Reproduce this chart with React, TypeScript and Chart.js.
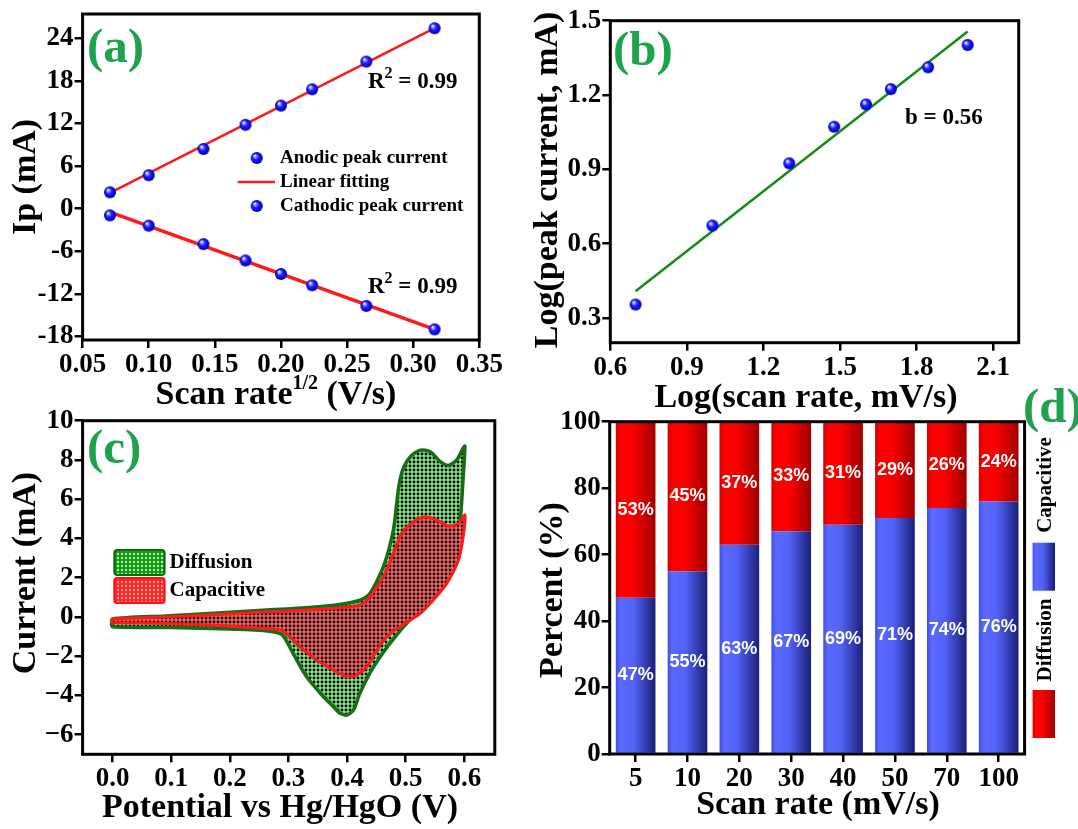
import React, { useEffect, useRef } from 'react';
import { Chart, registerables } from 'chart.js';
Chart.register(...registerables);

const PAGE_W = 1078;
const PAGE_H = 829;
const SERIF = '"Liberation Serif", "Times New Roman", serif';
const SANS = '"Liberation Sans", Arial, sans-serif';
const PANEL_GREEN = '#1fa24e';
const TITLE_SIZE = 34;
const TICK_SIZE = 27;

// ---------- (a) Ip vs sqrt(scan rate)
const sqrtScanRate = [0.0707, 0.1, 0.1414, 0.1732, 0.2, 0.2236, 0.2646, 0.3162];
const anodicIp = [2.3, 4.7, 8.4, 11.8, 14.5, 16.8, 20.7, 25.4];
const cathodicIp = [-0.95, -2.4, -5.0, -7.3, -9.2, -10.8, -13.7, -17.0];
const fitXa = [0.0707, 0.3162];
const anodicFit = [2.2, 25.4];
const cathodicFit = [-0.5, -17.0];
const aXTicks = [0.05, 0.1, 0.15, 0.2, 0.25, 0.3, 0.35];
const aYTicks = [-18, -12, -6, 0, 6, 12, 18, 24];

// ---------- (b) log-log
const logScanRate = [0.699, 1.0, 1.301, 1.477, 1.602, 1.699, 1.845, 2.0];
const logPeakCurrent = [0.354, 0.673, 0.924, 1.072, 1.162, 1.224, 1.312, 1.402];
const fitXb = [0.699, 2.0];
const fitYb = [0.408, 1.456];
const bXTicks = [0.6, 0.9, 1.2, 1.5, 1.8, 2.1];
const bYTicks = [0.3, 0.6, 0.9, 1.2, 1.5];

// ---------- (c) CV contributions
const diffusionPotential = [-0.002, 0.0, 0.09, 0.18, 0.263, 0.34, 0.39, 0.422, 0.439, 0.462, 0.479, 0.488, 0.495, 0.508, 0.525, 0.542, 0.559, 0.573, 0.587, 0.598, 0.601,
  0.597, 0.593, 0.584, 0.57, 0.547, 0.525, 0.507, 0.485, 0.461, 0.439, 0.422, 0.411, 0.4, 0.388, 0.377, 0.36, 0.331, 0.308, 0.289, 0.26, 0.2, 0.1, 0.0, -0.002];
const diffusionCurrent = [-0.3, -0.1, 0.05, 0.2, 0.35, 0.5, 0.65, 0.86, 1.2, 2.56, 4.43, 6.6, 7.5, 8.17, 8.5, 8.42, 7.91, 7.72, 8.0, 8.6, 8.7,
  6.6, 4.9, 3.2, 2.05, 1.2, 0.45, -0.15, -0.9, -1.84, -2.86, -3.88, -4.74, -5.0, -4.91, -4.58, -4.07, -3.05, -1.86, -0.9, -0.7, -0.62, -0.54, -0.5, -0.3];
const capacitivePotential = [-0.002, 0.0, 0.09, 0.18, 0.263, 0.34, 0.39, 0.422, 0.439, 0.462, 0.479, 0.493, 0.513, 0.533, 0.553, 0.573, 0.59, 0.601,
  0.598, 0.59, 0.57, 0.547, 0.525, 0.49, 0.468, 0.451, 0.434, 0.417, 0.4, 0.377, 0.348, 0.32, 0.303, 0.286, 0.206, 0.092, 0.0, -0.002];
const capacitiveCurrent = [-0.2, -0.1, 0.0, 0.12, 0.25, 0.36, 0.47, 0.61, 1.03, 2.05, 3.24, 4.26, 4.85, 5.11, 4.94, 4.63, 4.77, 5.19,
  4.09, 2.9, 1.71, 0.86, 0.18, -0.5, -1.01, -1.69, -2.54, -2.96, -3.05, -2.71, -2.2, -1.52, -1.01, -0.67, -0.48, -0.33, -0.28, -0.2];
const cXTicks = [0, 0.1, 0.2, 0.3, 0.4, 0.5, 0.6];
const cYTicks = [-6, -4, -2, 0, 2, 4, 6, 8, 10];

// ---------- (d) contribution percentages
const scanRateLabels = ['5', '10', '20', '30', '40', '50', '70', '100'];
const capacitivePct = [47, 55, 63, 67, 69, 71, 74, 76];
const diffusionPct = [53, 45, 37, 33, 31, 29, 26, 24];
const dYTicks = [0, 20, 40, 60, 80, 100];

// ---------- layout
type Rect = { l: number; t: number; r: number; b: number };
const Y_AXIS_W = 60;
const X_AXIS_H = 40;
const RECT_A: Rect = { l: 82.6, t: 14, r: 479.3, b: 340 };
const RECT_B: Rect = { l: 610.3, t: 20.7, r: 1018.7, b: 342.7 };
const RECT_C: Rect = { l: 82.6, t: 420.7, r: 494.8, b: 754.3 };
const RECT_D: Rect = { l: 609.7, t: 421.7, r: 1024.6, b: 754 };

const pad = (rc: Rect) => ({ left: rc.l - Y_AXIS_W, top: rc.t, right: PAGE_W - rc.r, bottom: PAGE_H - rc.b - X_AXIS_H });
const pts = (xs: number[], ys: number[]) => xs.map((x, i) => ({ x, y: ys[i] }));

const GRID = { display: true, offset: false, drawOnChartArea: false, drawTicks: true, tickLength: 8, lineWidth: 2.5, tickWidth: 2.5, color: '#000', tickColor: '#000' };

function axisCommon(isY: boolean, fmt: (v: any) => string) {
  return {
    position: isY ? 'left' : 'bottom',
    afterFit: (s: any) => {
      if (isY) { s.width = Y_AXIS_W; s.paddingTop = 0; s.paddingBottom = 0; }
      else { s.height = X_AXIS_H; s.paddingLeft = 0; s.paddingRight = 0; }
    },
    grid: GRID,
    border: { display: false },
    ticks: { color: '#000', font: { family: SERIF, weight: 'bold', size: TICK_SIZE }, padding: 1, autoSkip: false, maxRotation: 0, callback: fmt },
  };
}
function linAxis(isY: boolean, min: number, max: number, ticks: number[], fmt: (v: number) => string) {
  return {
    type: 'linear', min, max,
    ...axisCommon(isY, (v: any) => fmt(Number(v))),
    afterBuildTicks: (s: any) => { s.ticks = ticks.map((v) => ({ value: v })); },
  };
}

const framePlugin = {
  id: 'frame',
  afterDatasetsDraw(chart: any) {
    const { ctx, chartArea: a } = chart;
    ctx.save();
    ctx.lineWidth = 3;
    ctx.strokeStyle = '#000';
    ctx.strokeRect(a.left, a.top, a.right - a.left, a.bottom - a.top);
    ctx.restore();
  },
};

type Seg = { t: string; size: number; dy?: number; family?: string };
function drawRich(ctx: any, segs: Seg[], x: number, y: number, align: 'left' | 'center', rot = 0, color = '#000') {
  ctx.save();
  ctx.translate(x, y);
  if (rot) ctx.rotate(rot);
  ctx.fillStyle = color;
  ctx.textBaseline = 'middle';
  ctx.textAlign = 'left';
  let total = 0;
  const widths = segs.map((s) => {
    ctx.font = `bold ${s.size}px ${s.family || SERIF}`;
    const w = ctx.measureText(s.t).width;
    total += w;
    return w;
  });
  let cx = align === 'center' ? -total / 2 : 0;
  segs.forEach((s, i) => {
    ctx.font = `bold ${s.size}px ${s.family || SERIF}`;
    ctx.fillText(s.t, cx, s.dy || 0);
    cx += widths[i];
  });
  ctx.restore();
}
const txt = (ctx: any, t: string, x: number, y: number, size: number, align: 'left' | 'center' = 'center', rot = 0, color = '#000', family = SERIF) =>
  drawRich(ctx, [{ t, size, family }], x, y, align, rot, color);

function makeSphere(r = 6) {
  const d = Math.ceil(r * 2) + 2;
  const c = document.createElement('canvas');
  c.width = d; c.height = d;
  const g = c.getContext('2d') as CanvasRenderingContext2D;
  const cx = d / 2, cy = d / 2;
  const grad = g.createRadialGradient(cx - r * 0.35, cy - r * 0.4, r * 0.05, cx, cy, r);
  grad.addColorStop(0, '#ffffff');
  grad.addColorStop(0.2, '#9a9aff');
  grad.addColorStop(0.45, '#2424ff');
  grad.addColorStop(0.85, '#0000dc');
  grad.addColorStop(1, '#0000a0');
  g.fillStyle = grad;
  g.beginPath(); g.arc(cx, cy, r, 0, Math.PI * 2); g.fill();
  return c;
}
function dotPattern(bg: string, dot: string, step = 4, r = 1.45) {
  const c = document.createElement('canvas');
  c.width = step; c.height = step;
  const g = c.getContext('2d') as CanvasRenderingContext2D;
  g.fillStyle = bg; g.fillRect(0, 0, step, step);
  g.fillStyle = dot; g.beginPath(); g.arc(step / 2, step / 2, r, 0, Math.PI * 2); g.fill();
  return g.createPattern(c, 'repeat');
}

function baseOptions(rc: Rect) {
  return {
    responsive: false,
    animation: false,
    devicePixelRatio: 1,
    layout: { padding: pad(rc) },
    plugins: { legend: { display: false }, tooltip: { enabled: false } },
    events: [],
  };
}

function makeA(canvas: HTMLCanvasElement, sphere: HTMLCanvasElement) {
  return new Chart(canvas, {
    type: 'scatter',
    data: {
      datasets: [
        { label: 'Anodic peak current', data: pts(sqrtScanRate, anodicIp), pointStyle: sphere as any, pointRadius: 6, showLine: false },
        { label: 'Cathodic peak current', data: pts(sqrtScanRate, cathodicIp), pointStyle: sphere as any, pointRadius: 6, showLine: false },
        { label: 'Linear fitting', data: pts(fitXa, anodicFit), showLine: true, borderColor: '#ff1a1a', borderWidth: 2.5, pointRadius: 0 },
        { label: 'Linear fitting (cathodic)', data: pts(fitXa, cathodicFit), showLine: true, borderColor: '#ff1a1a', borderWidth: 3.5, pointRadius: 0 },
      ],
    } as any,
    options: {
      ...baseOptions(RECT_A),
      scales: {
        x: linAxis(false, 0.05, 0.35, aXTicks, (v) => v.toFixed(2)),
        y: linAxis(true, -18.5, 27.4, aYTicks, (v) => String(v)),
      },
    } as any,
    plugins: [framePlugin, {
      id: 'decoA',
      afterDraw(chart: any) {
        const ctx = chart.ctx;
        drawRich(ctx, [{ t: '(a)', size: 49 }], 87, 49, 'left', 0, PANEL_GREEN);
        txt(ctx, 'Ip (mA)', 26, 177, TITLE_SIZE, 'center', -Math.PI / 2);
        drawRich(ctx, [{ t: 'Scan rate', size: TITLE_SIZE }, { t: '1/2', size: 20, dy: -11 }, { t: ' (V/s)', size: TITLE_SIZE }], 276, 395, 'center');
        drawRich(ctx, [{ t: 'R', size: 23 }, { t: '2', size: 16, dy: -8 }, { t: ' = 0.99', size: 23 }], 368, 82, 'left');
        drawRich(ctx, [{ t: 'R', size: 23 }, { t: '2', size: 16, dy: -8 }, { t: ' = 0.99', size: 23 }], 368, 287, 'left');
        // legend
        ctx.drawImage(sphere, 256.7 - sphere.width / 2, 158 - sphere.height / 2);
        ctx.drawImage(sphere, 256.7 - sphere.width / 2, 206 - sphere.height / 2);
        ctx.save(); ctx.strokeStyle = '#ff1a1a'; ctx.lineWidth = 2.5;
        ctx.beginPath(); ctx.moveTo(237.7, 182); ctx.lineTo(275, 182); ctx.stroke(); ctx.restore();
        txt(ctx, 'Anodic peak current', 280, 158, 19, 'left');
        txt(ctx, 'Linear fitting', 280, 182, 19, 'left');
        txt(ctx, 'Cathodic peak current', 280, 206, 19, 'left');
      },
    }],
  });
}

function makeB(canvas: HTMLCanvasElement, sphere: HTMLCanvasElement) {
  return new Chart(canvas, {
    type: 'scatter',
    data: {
      datasets: [
        { label: 'Log(peak current)', data: pts(logScanRate, logPeakCurrent), pointStyle: sphere as any, pointRadius: 6, showLine: false },
        { label: 'Fit', data: pts(fitXb, fitYb), showLine: true, borderColor: '#178a17', borderWidth: 2.5, pointRadius: 0 },
      ],
    } as any,
    options: {
      ...baseOptions(RECT_B),
      scales: {
        x: linAxis(false, 0.6, 2.2, bXTicks, (v) => v.toFixed(1)),
        y: linAxis(true, 0.2, 1.5, bYTicks, (v) => v.toFixed(1)),
      },
    } as any,
    plugins: [framePlugin, {
      id: 'decoB',
      afterDraw(chart: any) {
        const ctx = chart.ctx;
        drawRich(ctx, [{ t: '(b)', size: 49 }], 613, 52, 'left', 0, PANEL_GREEN);
        txt(ctx, 'b = 0.56', 905, 118, 23, 'left');
        txt(ctx, 'Log(peak current, mA)', 548, 180, TITLE_SIZE, 'center', -Math.PI / 2);
        txt(ctx, 'Log(scan rate, mV/s)', 806, 398, TITLE_SIZE, 'center');
      },
    }],
  });
}

function makeC(canvas: HTMLCanvasElement) {
  const greenFill = dotPattern('#86ec86', '#000000');
  const redFill = dotPattern('#ff6464', '#000000');
  const greenLeg = dotPattern('#129612', '#a6ffa6', 4, 1.2);
  const redLeg = dotPattern('#ff2424', '#ff9c9c', 4, 1.2);
  return new Chart(canvas, {
    type: 'scatter',
    data: {
      datasets: [
        { label: 'Capacitive', data: pts(capacitivePotential, capacitiveCurrent), showLine: true, fill: 'shape', backgroundColor: redFill, borderColor: '#ff1a1a', borderWidth: 3, pointRadius: 0, tension: 0.25 },
        { label: 'Diffusion', data: pts(diffusionPotential, diffusionCurrent), showLine: true, fill: 'shape', backgroundColor: greenFill, borderColor: '#176e17', borderWidth: 3.5, pointRadius: 0, tension: 0.25 },
      ],
    } as any,
    options: {
      ...baseOptions(RECT_C),
      scales: {
        x: linAxis(false, -0.051, 0.652, cXTicks, (v) => v.toFixed(1)),
        y: linAxis(true, -7, 10, cYTicks, (v) => (v < 0 ? '\u2212' + Math.abs(v) : String(v))),
      },
    } as any,
    plugins: [framePlugin, {
      id: 'decoC',
      afterDraw(chart: any) {
        const ctx = chart.ctx;
        drawRich(ctx, [{ t: '(c)', size: 49 }], 87, 450, 'left', 0, PANEL_GREEN);
        txt(ctx, 'Current (mA)', 26, 573, TITLE_SIZE, 'center', -Math.PI / 2);
        txt(ctx, 'Potential vs Hg/HgO (V)', 280, 808, TITLE_SIZE, 'center');
        const box = (y: number, fill: any, stroke: string) => {
          ctx.save();
          ctx.fillStyle = fill; ctx.strokeStyle = stroke; ctx.lineWidth = 2;
          ctx.beginPath();
          (ctx as any).roundRect(114.3, y, 50.3, 25, 3);
          ctx.fill(); ctx.stroke();
          ctx.restore();
        };
        box(550, greenLeg, '#0b6b0b');
        box(578, redLeg, '#ff1010');
        txt(ctx, 'Diffusion', 169.5, 563, 21, 'left');
        txt(ctx, 'Capacitive', 169.5, 591, 21, 'left');
      },
    }],
  });
}

function barGradient(stops: [number, string][]) {
  return (c: any) => {
    const chart = c.chart;
    const area = chart.chartArea;
    if (!area || c.dataIndex === undefined) return stops[1][1];
    const n = scanRateLabels.length;
    const x = chart.scales.x.getPixelForValue(c.dataIndex);
    const w = ((area.right - area.left) / n) * 0.765;
    const g = chart.ctx.createLinearGradient(x - w / 2, 0, x + w / 2, 0);
    stops.forEach(([o, col]) => g.addColorStop(o, col));
    return g;
  };
}
const BLUE_STOPS: [number, string][] = [[0, '#4050e6'], [0.12, '#5a6aff'], [0.45, '#5262f6'], [1, '#1a1f78']];
const RED_STOPS: [number, string][] = [[0, '#d00000'], [0.12, '#ff0000'], [0.45, '#f80000'], [1, '#a00000']];

function makeD(canvas: HTMLCanvasElement) {
  return new Chart(canvas, {
    type: 'bar',
    data: {
      labels: scanRateLabels,
      datasets: [
        { label: 'Capacitive', data: capacitivePct, backgroundColor: barGradient(BLUE_STOPS), barPercentage: 0.85, categoryPercentage: 0.9 },
        { label: 'Diffusion', data: diffusionPct, backgroundColor: barGradient(RED_STOPS), barPercentage: 0.85, categoryPercentage: 0.9 },
      ],
    } as any,
    options: {
      ...baseOptions(RECT_D),
      scales: {
        x: { type: 'category', stacked: true, offset: true, ...axisCommon(false, function (this: any, v: any) { return this.getLabelForValue(v); }) },
        y: { stacked: true, ...linAxis(true, 0, 100, dYTicks, (v) => String(v)) },
      },
    } as any,
    plugins: [framePlugin, {
      id: 'decoD',
      afterDraw(chart: any) {
        const ctx = chart.ctx;
        chart.data.datasets.forEach((ds: any, di: number) => {
          chart.getDatasetMeta(di).data.forEach((el: any, i: number) => {
            txt(ctx, `${ds.data[i]}%`, el.x, (el.y + el.base) / 2, 18, 'center', 0, '#fff', SANS);
          });
        });
        drawRich(ctx, [{ t: '(d)', size: 49 }], 1023, 409, 'left', 0, PANEL_GREEN);
        txt(ctx, 'Percent (%)', 553, 590, TITLE_SIZE, 'center', -Math.PI / 2);
        txt(ctx, 'Scan rate (mV/s)', 818, 805, TITLE_SIZE, 'center');
        // legend
        const rect = (y: number, stops: [number, string][]) => {
          const g = ctx.createLinearGradient(1032.6, 0, 1055, 0);
          stops.forEach(([o, col]) => g.addColorStop(o, col));
          ctx.save(); ctx.fillStyle = g; ctx.fillRect(1032.6, y, 22.4, 48); ctx.restore();
        };
        txt(ctx, 'Capacitive', 1045.5, 485, 21, 'center', -Math.PI / 2);
        rect(542.7, BLUE_STOPS);
        txt(ctx, 'Diffusion', 1045.5, 640, 21, 'center', -Math.PI / 2);
        rect(690, RED_STOPS);
      },
    }],
  });
}

export default function App() {
  const r0 = useRef<HTMLCanvasElement>(null);
  const r1 = useRef<HTMLCanvasElement>(null);
  const r2 = useRef<HTMLCanvasElement>(null);
  const r3 = useRef<HTMLCanvasElement>(null);
  useEffect(() => {
    const sphere = makeSphere(6);
    const charts = [
      makeA(r0.current as HTMLCanvasElement, sphere),
      makeB(r1.current as HTMLCanvasElement, sphere),
      makeC(r2.current as HTMLCanvasElement),
      makeD(r3.current as HTMLCanvasElement),
    ];
    return () => charts.forEach((c) => c.destroy());
  }, []);
  const cs: React.CSSProperties = { position: 'absolute', left: 0, top: 0, width: PAGE_W, height: PAGE_H };
  return (
    <div style={{ position: 'fixed', left: 0, top: 0, width: PAGE_W, height: PAGE_H, background: '#fff', overflow: 'hidden' }}>
      <canvas ref={r0} width={PAGE_W} height={PAGE_H} style={cs} />
      <canvas ref={r1} width={PAGE_W} height={PAGE_H} style={cs} />
      <canvas ref={r2} width={PAGE_W} height={PAGE_H} style={cs} />
      <canvas ref={r3} width={PAGE_W} height={PAGE_H} style={cs} />
    </div>
  );
}
